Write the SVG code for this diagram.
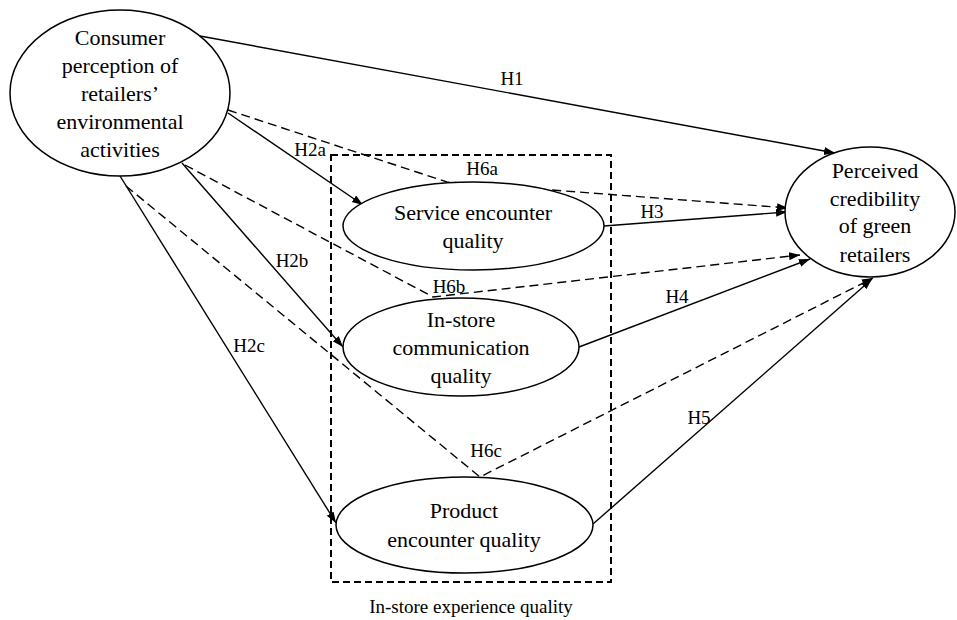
<svg xmlns="http://www.w3.org/2000/svg" width="957" height="620" viewBox="0 0 957 620">
<style>
.node{fill:#fff;stroke:#000;stroke-width:1.5}
.t{font-family:"Liberation Serif","Times New Roman",serif;font-size:22px;fill:#000;text-anchor:middle}
.lbl{font-family:"Liberation Serif","Times New Roman",serif;font-size:19px;fill:#000;text-anchor:middle}
.c{fill:none;stroke:#000;stroke-width:1.4}
.d{stroke-dasharray:9 5}
.box{fill:none;stroke:#000;stroke-width:2;stroke-dasharray:7 4}
</style>
<defs>
<marker id="ah" markerUnits="userSpaceOnUse" markerWidth="12" markerHeight="10" refX="11" refY="4" orient="auto">
<path d="M0,0 L11,4 L0,8 z" fill="#000"/>
</marker>
</defs>
<rect class="box" x="331" y="155" width="280" height="427"/>
<text class="lbl" x="471" y="613">In-store experience quality</text>
<g id="connectors">
<path class="c" d="M200,36 L835,153" marker-end="url(#ah)"/>
<path class="c d" d="M228,110 L447,182 L788,208" marker-end="url(#ah)"/>
<path class="c" d="M604,226 L787,212" marker-end="url(#ah)"/>
<path class="c" d="M228,113 L363,205" marker-end="url(#ah)"/>
<path class="c d" d="M185,165 L433,297 L800,255" marker-end="url(#ah)"/>
<path class="c" d="M182,163 L343,347" marker-end="url(#ah)"/>
<path class="c" d="M579,347 L810,259" marker-end="url(#ah)"/>
<path class="c" d="M120,176 L336,523" marker-end="url(#ah)"/>
<path class="c d" d="M126,186 L480,477 L873,278" marker-end="url(#ah)"/>
<path class="c" d="M593,524 L872,279" marker-end="url(#ah)"/>
<text class="lbl" x="512" y="85">H1</text>
<text class="lbl" x="310" y="156">H2a</text>
<text class="lbl" x="292" y="267">H2b</text>
<text class="lbl" x="249" y="352">H2c</text>
<text class="lbl" x="652" y="218">H3</text>
<text class="lbl" x="677" y="303">H4</text>
<text class="lbl" x="699" y="424">H5</text>
<text class="lbl" x="482" y="175">H6a</text>
<text class="lbl" x="449" y="293">H6b</text>
<text class="lbl" x="486" y="457">H6c</text>
</g>
<g id="consumer">
<ellipse class="node" cx="120" cy="93" rx="110" ry="83"/>
<text class="t" x="120" y="45">Consumer</text>
<text class="t" x="120" y="73">perception of</text>
<text class="t" x="120" y="101">retailers’</text>
<text class="t" x="120" y="129">environmental</text>
<text class="t" x="120" y="157">activities</text>
</g>
<g id="service">
<ellipse class="node" cx="473.5" cy="226" rx="130.5" ry="44"/>
<text class="t" x="473" y="220">Service encounter</text>
<text class="t" x="473" y="248">quality</text>
</g>
<g id="instore">
<ellipse class="node" cx="461" cy="347" rx="118" ry="49"/>
<text class="t" x="461" y="327">In-store</text>
<text class="t" x="461" y="355">communication</text>
<text class="t" x="461" y="383">quality</text>
</g>
<g id="product">
<ellipse class="node" cx="464.5" cy="525" rx="128.5" ry="48"/>
<text class="t" x="464" y="518">Product</text>
<text class="t" x="464" y="547">encounter quality</text>
</g>
<g id="perceived">
<ellipse class="node" cx="870" cy="212" rx="85" ry="65"/>
<text class="t" x="875" y="178">Perceived</text>
<text class="t" x="875" y="206">credibility</text>
<text class="t" x="875" y="233">of green</text>
<text class="t" x="875" y="262">retailers</text>
</g>
</svg>
